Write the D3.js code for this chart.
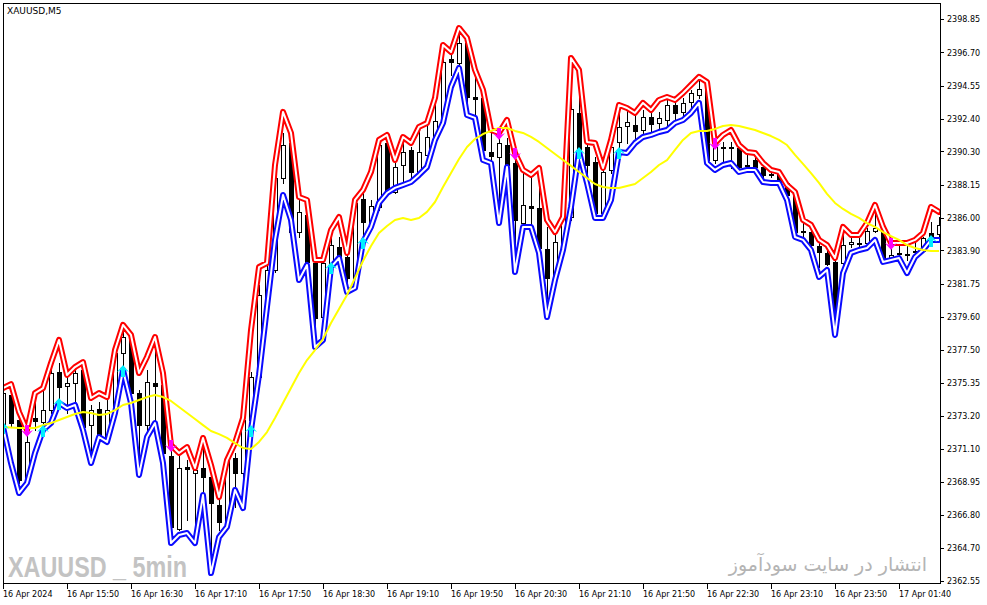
<!DOCTYPE html>
<html><head><meta charset="utf-8">
<script src="https://cdn.jsdelivr.net/npm/d3@7"></script>
<style>html,body{margin:0;padding:0;background:#fff;}svg{display:block;}</style>
</head><body>
<svg id="chart" width="987" height="605"></svg>
<script>
// ---- DATA (XAUUSD M5) ----
const open=[2372.50,2374.56,2372.95,2369.07,2373.08,2372.82,2373.59,2376.05,2375.14,2375.34,
2376.18,2372.62,2373.66,2371.79,2373.47,2377.28,2378.31,2374.69,2372.62,2375.34,
2375.21,2370.62,2365.91,2369.91,2369.52,2369.85,2369.27,2367.46,2366.36,2370.49,
2369.52,2372.95,2375.73,2380.89,2382.64,2388.58,2390.84,2385.09,2386.19,2383.09,
2379.60,2382.83,2384.12,2383.48,2382.12,2387.22,2385.74,2386.71,2390.84,2387.68,
2389.42,2390.39,2388.90,2390.07,2391.23,2392.20,2396.27,2396.01,2397.30,2393.81,
2393.75,2390.26,2389.94,2390.71,2389.55,2385.67,2386.77,2386.64,2383.99,2382.12,
2384.38,2386.06,2392.78,2390.58,2389.62,2386.32,2389.10,2390.91,2391.94,2392.00,
2391.68,2392.52,2392.13,2392.33,2393.30,2392.85,2393.49,2393.94,2394.59,2389.74,
2390.58,2390.52,2390.52,2389.42,2389.74,2389.29,2388.84,2388.90,2388.26,2387.61,
2385.16,2385.09,2384.19,2383.74,2383.16,2383.09,2384.32,2384.38,2384.38,2385.16,
2385.35,2383.41,2383.74,2383.67,2383.87,2383.87,2385.03,2384.96];
const high=[2374.89,2374.76,2373.08,2372.43,2374.76,2374.89,2376.18,2376.63,2375.73,2376.18,
2376.69,2373.92,2374.11,2374.76,2377.60,2378.63,2378.57,2374.89,2376.18,2377.92,
2375.73,2371.14,2370.82,2370.36,2370.23,2371.66,2369.72,2367.97,2370.56,2370.82,
2373.27,2376.05,2381.67,2382.96,2389.42,2391.49,2391.04,2387.16,2387.03,2383.16,
2383.28,2384.90,2384.77,2383.74,2387.29,2387.81,2387.16,2391.04,2391.36,2389.74,
2390.84,2390.58,2391.68,2392.00,2393.62,2396.72,2396.72,2398.01,2397.50,2395.11,
2394.27,2391.68,2391.17,2391.17,2389.74,2388.97,2388.65,2388.45,2385.42,2385.09,
2386.51,2396.20,2395.56,2390.84,2389.94,2389.23,2390.84,2393.17,2392.97,2392.78,
2392.97,2392.85,2392.85,2393.62,2393.62,2393.75,2394.27,2394.91,2394.72,2391.04,
2390.91,2390.91,2390.58,2390.07,2389.94,2389.42,2388.97,2388.97,2388.32,2387.68,
2385.74,2385.35,2384.58,2383.93,2383.28,2385.09,2384.71,2384.71,2385.35,2386.32,
2385.42,2384.12,2384.25,2384.25,2384.45,2384.77,2385.74,2386.06];
const low=[2372.30,2372.50,2368.88,2368.94,2372.30,2372.11,2373.40,2373.79,2373.40,2374.11,
2372.30,2370.23,2371.66,2371.66,2373.40,2376.37,2374.43,2369.27,2372.30,2372.95,
2370.69,2365.52,2365.84,2366.49,2365.52,2367.13,2363.58,2365.84,2366.04,2367.33,
2369.07,2372.50,2375.21,2380.70,2382.51,2388.26,2384.90,2384.77,2383.03,2378.12,
2379.09,2382.12,2382.83,2381.35,2381.86,2384.58,2385.35,2386.51,2387.61,2387.61,
2388.26,2388.32,2388.78,2389.29,2391.04,2392.07,2395.24,2395.36,2392.52,2392.52,
2390.20,2389.74,2385.67,2388.65,2382.90,2385.55,2385.42,2383.93,2379.60,2381.80,
2384.12,2385.87,2389.74,2388.45,2385.87,2386.06,2388.90,2390.58,2390.84,2391.17,
2391.49,2391.49,2391.68,2391.88,2392.33,2392.65,2393.17,2393.75,2389.55,2389.55,
2389.42,2389.23,2389.10,2389.23,2389.10,2388.65,2388.65,2388.13,2387.35,2385.03,
2384.45,2383.93,2382.83,2382.96,2378.44,2382.96,2384.12,2384.12,2384.25,2385.09,
2383.28,2383.28,2383.48,2383.28,2383.74,2383.80,2384.58,2384.58];
const close=[2374.69,2372.75,2369.07,2371.53,2372.88,2373.59,2375.98,2375.08,2375.34,2375.98,
2372.50,2373.59,2371.72,2373.59,2377.28,2378.31,2374.69,2372.62,2375.40,2375.14,
2370.82,2366.04,2369.85,2369.78,2369.72,2369.27,2367.59,2366.36,2370.36,2369.52,
2372.95,2375.73,2381.02,2382.64,2388.58,2390.71,2385.09,2386.39,2383.16,2379.54,
2383.09,2384.25,2383.48,2382.12,2386.97,2385.74,2386.77,2390.71,2387.68,2389.29,
2390.26,2388.97,2390.26,2391.23,2392.26,2396.08,2396.08,2397.30,2393.81,2393.69,
2390.39,2390.00,2390.84,2389.42,2385.87,2386.84,2386.64,2384.06,2382.12,2384.45,
2386.06,2393.04,2390.39,2389.42,2386.32,2388.97,2390.58,2391.88,2392.20,2391.62,
2392.52,2392.07,2392.46,2393.30,2392.78,2393.43,2394.07,2394.33,2389.74,2390.58,
2390.52,2390.58,2389.29,2389.36,2389.29,2388.78,2388.78,2388.26,2387.48,2385.09,
2385.09,2384.25,2383.80,2383.03,2378.63,2384.25,2384.45,2384.32,2385.16,2385.35,
2383.35,2383.61,2383.67,2383.61,2383.80,2384.71,2384.83,2385.55];
const upperBand=[2375.01,2375.27,2373.47,2372.30,2374.69,2375.01,2376.63,2378.12,2375.86,2376.37,
2376.69,2374.37,2374.69,2374.43,2377.47,2379.09,2378.44,2375.98,2377.02,2378.31,
2375.98,2371.33,2370.82,2371.20,2369.85,2371.79,2370.04,2367.97,2370.36,2371.46,
2373.08,2378.76,2382.83,2383.09,2389.42,2392.85,2391.49,2387.35,2387.16,2383.28,
2383.28,2385.22,2386.06,2383.74,2387.16,2387.81,2388.97,2391.04,2391.36,2389.74,
2391.23,2390.84,2391.88,2392.13,2393.75,2397.17,2396.72,2398.27,2397.63,2395.56,
2394.27,2391.68,2391.49,2392.33,2390.20,2389.10,2388.78,2389.23,2385.87,2385.09,
2386.06,2396.33,2395.56,2390.91,2390.84,2389.23,2391.04,2393.30,2393.10,2392.78,
2393.43,2392.97,2393.62,2393.81,2393.62,2394.07,2394.59,2395.11,2394.78,2390.84,
2391.36,2391.68,2390.71,2390.26,2390.20,2389.55,2389.10,2388.97,2388.13,2387.68,
2385.87,2385.55,2384.58,2384.25,2383.41,2385.42,2384.90,2384.90,2385.67,2386.84,
2385.42,2384.38,2384.38,2384.38,2384.58,2385.03,2386.71,2386.39];
const lowerBand=[2372.50,2370.17,2368.23,2368.88,2370.82,2372.30,2372.75,2374.05,2373.72,2373.92,
2372.30,2370.17,2371.85,2371.53,2373.40,2376.18,2374.05,2369.40,2371.85,2372.75,
2370.17,2365.00,2365.52,2365.65,2365.00,2368.10,2363.06,2365.39,2366.04,2368.43,
2367.26,2372.30,2375.86,2380.25,2384.58,2387.48,2385.87,2381.99,2382.96,2377.66,
2378.12,2382.83,2383.41,2381.22,2381.48,2384.45,2385.42,2386.97,2387.61,2387.94,
2388.13,2388.32,2388.78,2389.29,2391.04,2392.13,2394.46,2395.69,2392.65,2392.46,
2389.74,2389.55,2385.67,2389.29,2382.51,2385.42,2385.42,2383.74,2379.60,2381.99,
2383.93,2386.71,2390.26,2388.26,2386.00,2386.00,2387.16,2390.26,2390.20,2390.84,
2391.23,2391.36,2391.55,2391.68,2392.13,2392.33,2392.78,2393.43,2389.55,2389.10,
2389.42,2389.55,2388.97,2389.10,2389.10,2388.32,2388.26,2388.26,2387.16,2384.77,
2384.58,2383.93,2382.19,2382.64,2378.44,2382.44,2383.74,2383.93,2384.06,2384.58,
2383.16,2383.28,2383.41,2382.44,2383.48,2383.93,2384.58,2384.58];
const maLine=[2372.50,2372.46,2372.43,2372.43,2372.43,2372.62,2372.75,2372.95,2373.14,2373.34,
2373.47,2373.40,2373.27,2373.34,2373.59,2373.92,2374.05,2374.24,2374.43,2374.56,
2374.43,2374.18,2373.79,2373.40,2373.01,2372.62,2372.24,2372.04,2371.79,2371.46,
2371.14,2371.07,2371.53,2372.17,2373.08,2374.05,2375.01,2375.98,2376.82,2377.47,
2378.18,2379.21,2380.12,2381.02,2382.12,2383.22,2384.19,2385.03,2385.48,2385.87,
2386.00,2385.87,2386.00,2386.39,2387.03,2388.00,2388.90,2389.81,2390.58,2391.10,
2391.42,2391.62,2391.81,2391.81,2391.62,2391.49,2391.23,2390.91,2390.52,2390.13,
2389.74,2389.36,2388.97,2388.58,2388.19,2388.00,2387.94,2387.94,2388.06,2388.19,
2388.58,2388.97,2389.42,2389.74,2390.39,2391.04,2391.49,2391.62,2391.62,2391.75,
2391.94,2392.00,2391.94,2391.81,2391.68,2391.49,2391.29,2391.04,2390.71,2390.07,
2389.49,2388.90,2388.26,2387.55,2386.97,2386.58,2386.26,2386.00,2385.67,2385.42,
2385.09,2384.83,2384.58,2384.25,2384.06,2383.93,2383.87,2383.87];
const buyArrowBars=[0,5,7,15,31,41,45,72,77,116];
const sellArrowBars=[3,21,62,64,89,111];
const priceTicks=[2398.85,2396.70,2394.55,2392.40,2390.30,2388.15,2386.00,2383.90,2381.75,
2379.60,2377.50,2375.35,2373.20,2371.10,2368.95,2366.80,2364.70,2362.55];
const timeTickBars=[0,8,16,24,32,40,48,56,64,72,80,88,96,104,112];
const timeTickLabels=["16 Apr 2024","16 Apr 15:50","16 Apr 16:30","16 Apr 17:10","16 Apr 17:50",
"16 Apr 18:30","16 Apr 19:10","16 Apr 19:50","16 Apr 20:30","16 Apr 21:10","16 Apr 21:50",
"16 Apr 22:30","16 Apr 23:10","16 Apr 23:50","17 Apr 01:40"];
const titleText="XAUUSD,M5";
const watermarkLeft="XAUUSD _ 5min";
const watermarkRight="انتشار در سایت سودآموز";

// ---- RENDER ----
const W=987,H=605;
const svg=d3.select('#chart');
svg.append('rect').attr('width',W).attr('height',H).attr('fill','#fff');
const x=d3.scaleLinear().domain([0,117]).range([3,939]);
const y=d3.scaleLinear().domain([2362.55,2398.85]).range([581,19]);
svg.append('defs').append('clipPath').attr('id','plotclip')
  .append('rect').attr('x',4).attr('y',4).attr('width',936).attr('height',580);
const g=svg.append('g').attr('clip-path','url(#plotclip)');

// watermarks
g.append('text').attr('x',8).attr('y',577).text(watermarkLeft)
  .attr('font-family','"Liberation Sans", Arial, sans-serif')
  .attr('font-weight','bold').attr('font-size',29).attr('fill','#c3c3c3')
  .attr('textLength',179).attr('lengthAdjust','spacingAndGlyphs');
g.append('text').attr('x',927).attr('y',571).text(watermarkRight)
  .attr('font-family','"DejaVu Sans", sans-serif').attr('direction','rtl')
  .attr('text-anchor','start').attr('font-size',19).attr('fill','#b4b4b4');

const idx=d3.range(open.length);
const cx=i=>Math.round(x(i));
const cg=g.append('g').attr('shape-rendering','crispEdges');
cg.selectAll('line.wick').data(idx).join('line').attr('class','wick')
  .attr('x1',i=>cx(i)+0.5).attr('x2',i=>cx(i)+0.5)
  .attr('y1',i=>Math.round(y(high[i]))).attr('y2',i=>Math.round(y(low[i]))+1)
  .attr('stroke','#000').attr('stroke-width',1);
cg.selectAll('rect.body').data(idx).join('rect').attr('class','body')
  .attr('x',i=>cx(i)-1.5).attr('width',4)
  .attr('y',i=>Math.round(y(Math.max(open[i],close[i])))+0.5)
  .attr('height',i=>Math.max(1,Math.round(Math.abs(y(open[i])-y(close[i])))))
  .attr('fill',i=>close[i]>=open[i]?'#fff':'#000')
  .attr('stroke','#000').attr('stroke-width',1);

const line=d3.line().x((d,i)=>x(i)).y(d=>y(d));
function band(data,color){
  g.append('path').attr('d',line(data)).attr('fill','none').attr('stroke',color)
    .attr('stroke-width',6).attr('stroke-linejoin','round').attr('stroke-linecap','round');
  g.append('path').attr('d',line(data)).attr('fill','none').attr('stroke','#fff')
    .attr('stroke-width',2).attr('stroke-linejoin','round');
}
band(upperBand,'#ff0000');
band(lowerBand,'#0a0aff');
g.append('path').attr('d',line(maLine)).attr('fill','none').attr('stroke','#ffff00')
  .attr('stroke-width',2).attr('stroke-linejoin','round');

const upArrow="M0,-6 L6,1 L2,-1 L2,6 L-2,6 L-2,-1 L-6,1 Z";
const downArrow="M0,6 L6,-1 L2,1 L2,-6 L-2,-6 L-2,1 L-6,-1 Z";
g.selectAll('path.buy').data(buyArrowBars).join('path').attr('class','buy')
  .attr('d',upArrow).attr('transform',i=>`translate(${x(i)},${y(lowerBand[i])+1})`)
  .attr('fill','#00f0ff');
g.selectAll('path.sell').data(sellArrowBars).join('path').attr('class','sell')
  .attr('d',downArrow).attr('transform',i=>`translate(${x(i)},${y(upperBand[i])+1})`)
  .attr('fill','#ff00ff');

// frame
svg.append('rect').attr('x',3.5).attr('y',3.5).attr('width',937).attr('height',580)
  .attr('fill','none').attr('stroke','#000').attr('shape-rendering','crispEdges');

// axes
const fontFam='"DejaVu Sans", sans-serif';
const xAxis=d3.axisBottom(x).tickValues(timeTickBars).tickFormat((d,i)=>timeTickLabels[i])
  .tickSize(5).tickSizeOuter(0);
svg.append('g').attr('transform','translate(0,584)').call(xAxis)
  .call(a=>a.select('.domain').remove())
  .call(a=>a.selectAll('line').attr('stroke','#000').attr('shape-rendering','crispEdges'))
  .call(a=>a.selectAll('text').attr('text-anchor','start').attr('x',-0.5).attr('y',13).attr('dy',0)
     .attr('fill','#000').attr('font-family',fontFam).attr('font-size',8));
const yAxis=d3.axisRight(y).tickValues(priceTicks).tickFormat(d3.format('.2f'))
  .tickSize(4).tickSizeOuter(0);
svg.append('g').attr('transform','translate(940,0)').call(yAxis)
  .call(a=>a.select('.domain').remove())
  .call(a=>a.selectAll('line').attr('stroke','#000').attr('shape-rendering','crispEdges'))
  .call(a=>a.selectAll('text').attr('x',7).attr('dy','0.34em')
     .attr('fill','#000').attr('font-family',fontFam).attr('font-size',8));

svg.append('text').attr('x',7).attr('y',14).text(titleText)
  .attr('font-family',fontFam).attr('font-size',9).attr('fill','#000');
</script>
</body></html>
